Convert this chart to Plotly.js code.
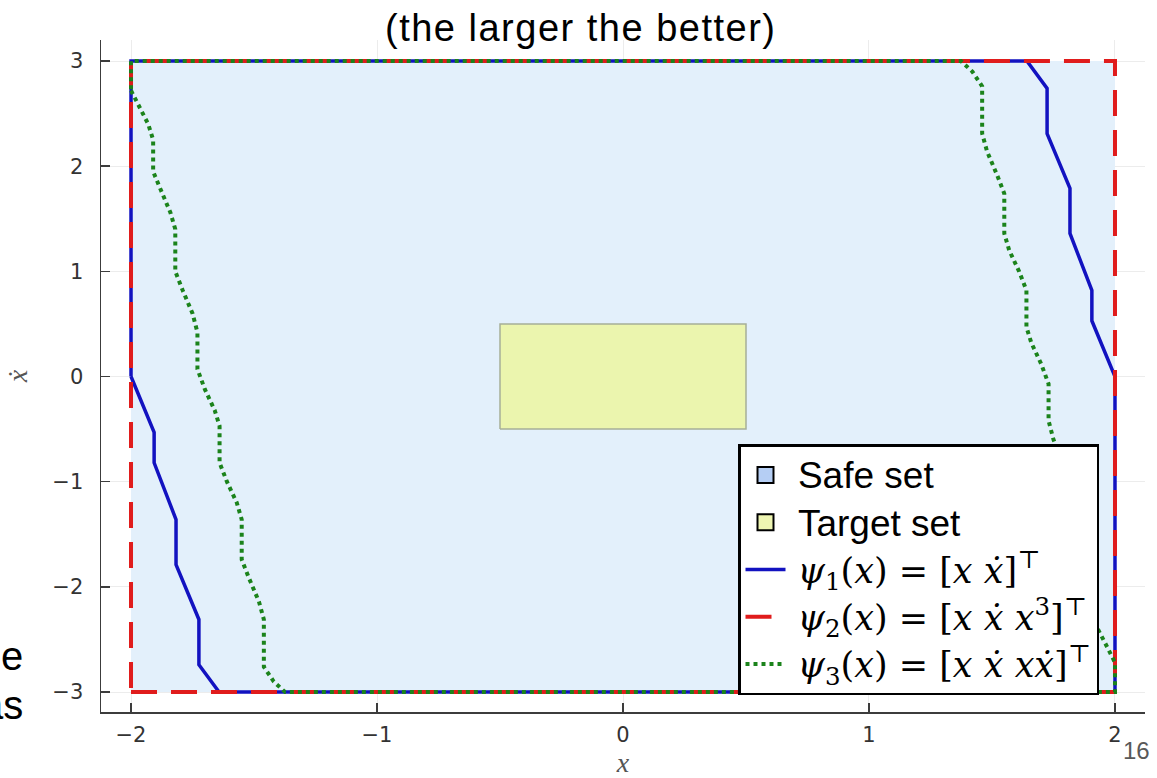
<!DOCTYPE html>
<html>
<head>
<meta charset="utf-8">
<script src="https://cdn.plot.ly/plotly-3.0.1.min.js"></script>
<style>
  html, body { margin: 0; padding: 0; background: #ffffff; }
  #chart { width: 1157px; height: 778px; }
</style>
</head>
<body>
<div id="chart"></div>
<script>
// ---------- data ----------
const safeX = [-2, 2, 2, -2, -2];
const safeY = [-3, -3, 3, 3, -3];

const targetX = [-0.5, 0.5, 0.5, -0.5, -0.5];
const targetY = [-0.5, -0.5, 0.5, 0.5, -0.5];

// psi1 = [x, xdot]
const psi1X = [-2, -1.906, -1.906, -1.817, -1.817, -1.724, -1.724, -1.642, 2, 2,
               1.906, 1.906, 1.817, 1.817, 1.724, 1.724, 1.642, -2, -2];
const psi1Y = [0, -0.53, -0.82, -1.36, -1.79, -2.31, -2.74, -3, -3, 0,
               0.53, 0.82, 1.36, 1.79, 2.31, 2.74, 3, 3, 0];

// psi2 = [x, xdot, x^3]
const psi2X = [-2, 2, 2, -2, -2];
const psi2Y = [-3, -3, 3, 3, -3];

// psi3 = [x, xdot, x*xdot]
const psi3X = [-2, -1.97, -1.93, -1.91, -1.91, -1.88, -1.84, -1.82, -1.82, -1.79, -1.75, -1.73, -1.73,
               -1.70, -1.66, -1.64, -1.64, -1.61, -1.57, -1.55, -1.55, -1.52, -1.48, -1.46, -1.46, -1.42, -1.374,
               2, 2,
               1.97, 1.93, 1.91, 1.91, 1.88, 1.84, 1.82, 1.82, 1.79, 1.75, 1.73, 1.73,
               1.70, 1.66, 1.64, 1.64, 1.61, 1.57, 1.55, 1.55, 1.52, 1.48, 1.46, 1.46, 1.42, 1.374,
               -2, -2];
const psi3Y = [2.72, 2.58, 2.40, 2.25, 1.95, 1.78, 1.56, 1.40, 1.00, 0.82, 0.60, 0.42, 0.07,
               -0.12, -0.32, -0.47, -0.82, -1.00, -1.20, -1.36, -1.74, -1.92, -2.14, -2.31, -2.76, -2.90, -3,
               -3, -2.72,
               -2.58, -2.40, -2.25, -1.95, -1.78, -1.56, -1.40, -1.00, -0.82, -0.60, -0.42, -0.07,
               0.12, 0.32, 0.47, 0.82, 1.00, 1.20, 1.36, 1.74, 1.92, 2.14, 2.31, 2.76, 2.90, 3,
               3, 2.72];

const tickVals = [-2, -1, 0, 1, 2];
const tickText = ['\u22122', '\u22121', '0', '1', '2'];
const yTickVals = [-3, -2, -1, 0, 1, 2, 3];
const yTickText = ['\u22123', '\u22122', '\u22121', '0', '1', '2', '3'];

const SANS = '<span style="font-size:37px">\u2009';
const MATH = '<span style="font-family:DejaVu Serif;font-size:35px">\u2009';
const legendNames = [
  SANS + 'Safe set</span>',
  SANS + 'Target set</span>',
  MATH + '<i>\u03c8</i><sub>1</sub>(<i>x</i>) = [<i>x</i> <i>\u1e8b</i>]<sup>\u22a4</sup></span>',
  MATH + '<i>\u03c8</i><sub>2</sub>(<i>x</i>) = [<i>x</i> <i>\u1e8b</i> <i>x</i><sup>3</sup>]<sup>\u22a4</sup></span>',
  MATH + '<i>\u03c8</i><sub>3</sub>(<i>x</i>) = [<i>x</i> <i>\u1e8b</i> <i>x\u1e8b</i>]<sup>\u22a4</sup></span>'
];

// ---------- layout helpers (pixel -> paper) ----------
const L = 101, R = 1145, T = 40, B = 712;
const px = v => (v - L) / (R - L);
const py = v => (B - v) / (B - T);

const traces = [
  // plot-area shapes (no legend)
  { x: safeX, y: safeY, type: 'scatter', mode: 'lines', fill: 'toself',
    fillcolor: '#e3f0fb', line: { width: 0, color: 'rgba(0,0,0,0)' },
    showlegend: false, hoverinfo: 'skip' },
  { x: targetX, y: targetY, type: 'scatter', mode: 'lines', fill: 'toself',
    fillcolor: '#ebf5ae', line: { width: 1.5, color: '#a7ae98' },
    showlegend: false, hoverinfo: 'skip' },
  // legend entries for the sets
  { x: [null], y: [null], type: 'scatter', mode: 'markers', name: legendNames[0],
    marker: { symbol: 'square', size: 16, color: '#b5cef4', line: { color: '#000', width: 2 } } },
  { x: [null], y: [null], type: 'scatter', mode: 'markers', name: legendNames[1],
    marker: { symbol: 'square', size: 16, color: '#eef5b2', line: { color: '#000', width: 2 } } },
  // boundaries
  { x: psi1X, y: psi1Y, type: 'scatter', mode: 'lines', name: legendNames[2],
    line: { color: '#1212c0', width: 3.5 } },
  { x: psi2X, y: psi2Y, type: 'scatter', mode: 'lines', name: legendNames[3],
    line: { color: '#e01c1c', width: 4, dash: '26px,14px' } },
  { x: psi3X, y: psi3Y, type: 'scatter', mode: 'lines', name: legendNames[4],
    line: { color: '#1b831b', width: 4, dash: '4px,4px' } }
];

function axis(extra) {
  return Object.assign({
    showline: true, linecolor: '#3c3c3c', linewidth: 1.5,
    ticks: 'inside', ticklen: 9, tickwidth: 1.5, tickcolor: '#3c3c3c',
    showgrid: true, gridcolor: '#ececec', gridwidth: 1,
    zeroline: false, mirror: false,
    tickfont: { family: 'DejaVu Sans', size: 21, color: '#333333' }
  }, extra);
}

const layout = {
  width: 1157, height: 778,
  font: { family: 'DejaVu Sans', size: 21, color: '#333333' },
  margin: { l: L, r: 1157 - R, t: T, b: 778 - B, pad: 0 },
  paper_bgcolor: '#ffffff', plot_bgcolor: '#ffffff',
  showlegend: true,
  xaxis: axis({
    range: [-2.122, 2.122], tickmode: 'array', tickvals: tickVals, ticktext: tickText,
    ticklabelstandoff: 3,
    title: { text: '<i>x</i>', font: { family: 'Liberation Serif', size: 28, color: '#555' }, standoff: 10 }
  }),
  yaxis: axis({
    range: [-3.19, 3.20], tickmode: 'array', tickvals: yTickVals, ticktext: yTickText,
    ticklabelstandoff: 12,
    title: { text: '<i>\u1e8b</i>', font: { family: 'Liberation Serif', size: 28, color: '#555' }, standoff: 16 }
  }),
  legend: {
    x: px(738), y: py(444), xanchor: 'left', yanchor: 'top',
    bgcolor: '#ffffff', bordercolor: '#000000', borderwidth: 2.5,
    font: { family: 'Liberation Sans', size: 34, color: '#000' },
    itemwidth: 40, traceorder: 'normal', tracegroupgap: 0
  },
  annotations: [
    { text: '<span style="letter-spacing:1.5px">(the larger the better)</span>', xref: 'paper', yref: 'paper',
      x: px(580), y: py(28), xanchor: 'center', yanchor: 'middle', showarrow: false,
      font: { family: 'Liberation Sans', size: 38, color: '#000' } },
    { text: 'e', xref: 'paper', yref: 'paper',
      x: px(25), y: py(656), xanchor: 'right', yanchor: 'middle', showarrow: false,
      font: { family: 'Liberation Sans', size: 40, color: '#000' } },
    { text: 'as', xref: 'paper', yref: 'paper',
      x: px(25), y: py(705), xanchor: 'right', yanchor: 'middle', showarrow: false,
      font: { family: 'Liberation Sans', size: 40, color: '#000' } },
    { text: '16', xref: 'paper', yref: 'paper',
      x: px(1136), y: py(751), xanchor: 'center', yanchor: 'middle', showarrow: false,
      font: { family: 'Liberation Sans', size: 24, color: '#595959' } }
  ]
};

Plotly.newPlot('chart', traces, layout, { staticPlot: true, displayModeBar: false });
</script>
</body>
</html>
